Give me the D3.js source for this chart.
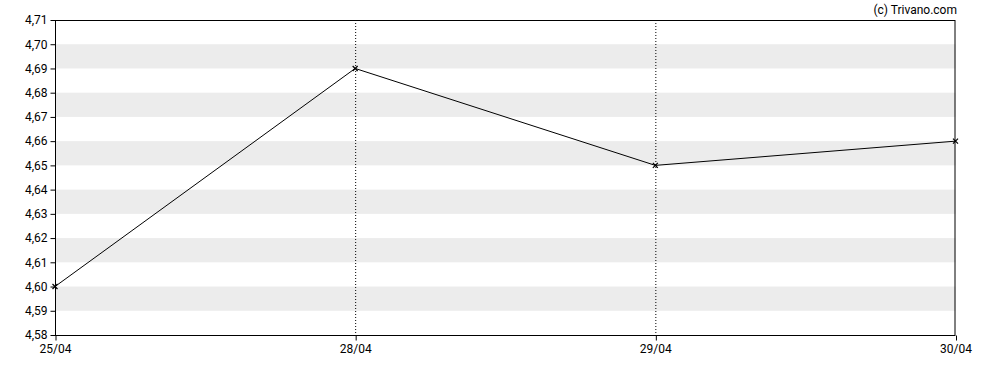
<!DOCTYPE html>
<html><head><meta charset="utf-8">
<script src="https://cdn.jsdelivr.net/npm/d3@7"></script>
<style>body{margin:0;background:#fff}svg{display:block;font-family:Roboto,Arial,sans-serif}</style>
</head><body><svg id="c" width="988" height="370"></svg>
<script>
const dates = ["25/04","28/04","29/04","30/04"];
const prices = [4.60, 4.69, 4.65, 4.66];
const yTicks = [4.58,4.59,4.60,4.61,4.62,4.63,4.64,4.65,4.66,4.67,4.68,4.69,4.70,4.71];
const credit = "(c) Trivano.com";

const svg = d3.select("#c");
const L=55, R=955.5, T=20, B=335;
const x = d3.scalePoint().domain(dates).range([L,R]);
const y = d3.scaleLinear().domain([4.58,4.71]).range([B,T]);
const fmt = v => v.toFixed(2).replace(".", ",");

// bands
for (let i=0;i<yTicks.length-1;i++){
  const lo=yTicks[i], hi=yTicks[i+1];
  if (i%2===1) svg.append("rect").attr("x",L).attr("width",R-L)
    .attr("y",y(hi)).attr("height",y(lo)-y(hi)).attr("fill","#ececec");
}
// vertical dotted lines
svg.selectAll("line.v").data(dates.slice(1,-1)).join("line")
  .attr("x1",d=>x(d)+0.5).attr("x2",d=>x(d)+0.5).attr("y1",T).attr("y2",B)
  .attr("stroke","#000").attr("stroke-dasharray","1,2");
// frame
svg.append("rect").attr("x",L+0.5).attr("y",T+0.5).attr("width",R-L-1).attr("height",B-T)
  .attr("fill","none").attr("stroke","#000");
// y axis
const ya = svg.append("g").attr("transform",`translate(${L+0.5},0)`)
  .call(d3.axisLeft(y).tickValues(yTicks).tickFormat(fmt).tickSize(5).tickPadding(3));
ya.select(".domain").remove();
ya.selectAll("text").attr("font-size",12).attr("fill","#000").attr("font-family","Roboto,Arial,sans-serif");
// x axis
const xa = svg.append("g").attr("transform",`translate(0,${B+0.5})`)
  .call(d3.axisBottom(x).tickSize(5).tickPadding(4));
xa.select(".domain").remove();
xa.selectAll(".tick line").attr("transform","translate(0.5,0)");
xa.selectAll("text").attr("font-size",12).attr("fill","#000").attr("font-family","Roboto,Arial,sans-serif");
// line
svg.append("path").datum(prices.map((p,i)=>[dates[i],p]))
  .attr("d",d3.line().x(d=>x(d[0])).y(d=>y(d[1])))
  .attr("fill","none").attr("stroke","#000").attr("stroke-width",1);
// markers
svg.selectAll("path.m").data(prices.map((p,i)=>[dates[i],p])).join("path")
  .attr("d",d=>{const cx=x(d[0]),cy=y(d[1]),s=2.5;return `M${cx-s},${cy-s}L${cx+s},${cy+s}M${cx-s},${cy+s}L${cx+s},${cy-s}`;})
  .attr("stroke","#000").attr("stroke-width",1.2);
// credit
svg.append("text").attr("x",957).attr("y",14).attr("text-anchor","end")
  .attr("font-size",12).attr("fill","#000").text(credit);
</script></body></html>
